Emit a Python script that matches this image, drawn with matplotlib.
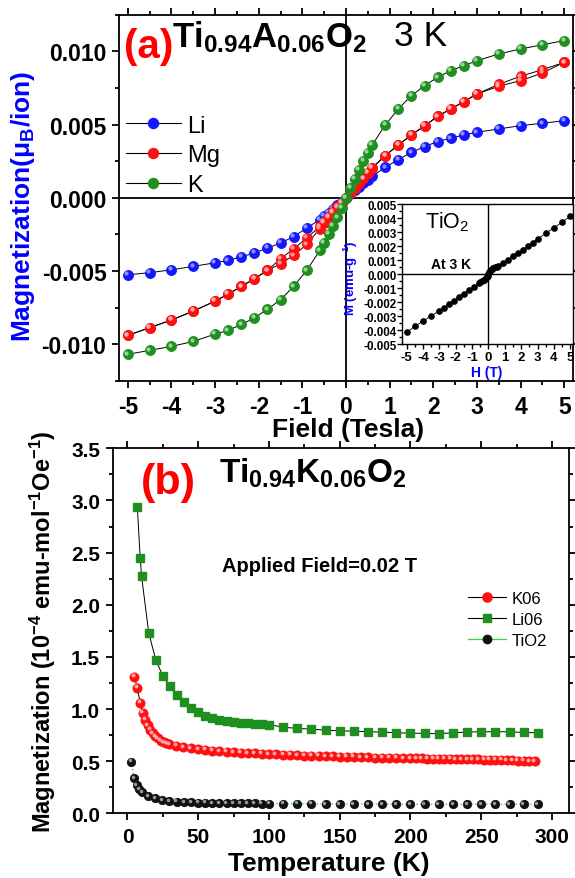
import matplotlib
matplotlib.use('Agg')
import matplotlib.pyplot as plt
from matplotlib.ticker import MultipleLocator, FormatStrFormatter
from matplotlib.transforms import ScaledTranslation
from matplotlib.lines import Line2D

plt.rcParams['font.family'] = 'Liberation Sans'
plt.rcParams['font.weight'] = 'bold'
plt.rcParams['axes.labelweight'] = 'bold'
plt.rcParams['mathtext.default'] = 'regular'
plt.rcParams['axes.unicode_minus'] = False

# ---- panel (a): M vs H at 3 K ----
field = [-5, -4.5, -4, -3.5, -3, -2.7, -2.4, -2.1, -1.8, -1.5, -1.2, -0.9, -0.6, -0.5, -0.4, -0.3, -0.2, -0.1, 0,
         0.1, 0.2, 0.3, 0.4, 0.5, 0.6, 0.9, 1.2, 1.5, 1.8, 2.1, 2.4, 2.7, 3, 3.5, 4, 4.5, 5]
m_li = [-0.00525, -0.00511, -0.00491, -0.00468, -0.00443, -0.00427, -0.00402, -0.00377, -0.00343, -0.00309,
        -0.00264, -0.00207, -0.00148, -0.00125, -0.00100, -0.00077, -0.00052, -0.00027, 0.0,
        0.00027, 0.00052, 0.00077, 0.00100, 0.00125, 0.00148, 0.00209, 0.00261, 0.00311, 0.00350, 0.00384,
        0.00407, 0.00430, 0.00448, 0.00470, 0.00493, 0.00509, 0.00527]
m_mg_up = [-0.00939, -0.00886, -0.00834, -0.00773, -0.00705, -0.00657, -0.00605, -0.00552, -0.00495, -0.00450,
           -0.00393, -0.00318, -0.00210, -0.00170, -0.00134, -0.00099, -0.00065, -0.00034, 0.0,
           0.00034, 0.00066, 0.00100, 0.00134, 0.00170, 0.00205, 0.00289, 0.00361, 0.00430, 0.00491, 0.00557,
           0.00607, 0.00657, 0.00709, 0.00762, 0.00800, 0.00852, 0.00925]
m_mg_down = [-0.00939, -0.00886, -0.00834, -0.00773, -0.00705, -0.00657, -0.00605, -0.00552, -0.00495, -0.00416,
             -0.00348, -0.00275, -0.00195, -0.00162, -0.00130, -0.00097, -0.00063, -0.00034, 0.0,
             0.00034, 0.00066, 0.00100, 0.00134, 0.00170, 0.00205, 0.00289, 0.00361, 0.00430, 0.00491, 0.00557,
             0.00607, 0.00657, 0.00709, 0.00775, 0.00830, 0.00875, 0.00925]
m_k = [-0.01068, -0.01041, -0.01014, -0.00980, -0.00930, -0.00905, -0.00864, -0.00820, -0.00761, -0.00695,
       -0.00605, -0.00495, -0.00359, -0.00307, -0.00248, -0.00191, -0.00134, -0.00068, 0.0,
       0.00068, 0.00130, 0.00193, 0.00252, 0.00307, 0.00361, 0.00498, 0.00607, 0.00698, 0.00766, 0.00823,
       0.00868, 0.00902, 0.00936, 0.00982, 0.01016, 0.01045, 0.01073]

# inset: pure TiO2 at 3 K
field_tio2 = [-5, -4.5, -4, -3.5, -3, -2.7, -2.4, -2.1, -1.8, -1.5, -1.2, -0.9, -0.6, -0.5, -0.4, -0.3, -0.25, -0.2,
              -0.15, -0.1, -0.05, 0, 0.05, 0.1, 0.15, 0.2, 0.25, 0.3, 0.4, 0.5, 0.6, 0.9, 1.2, 1.5, 1.8, 2.1, 2.4,
              2.7, 3, 3.5, 4, 4.5, 5]
m_tio2 = [-0.00417, -0.00374, -0.00336, -0.00300, -0.00262, -0.00240, -0.00215, -0.00190, -0.00165, -0.00140,
          -0.00115, -0.00090, -0.00065, -0.00058, -0.00051, -0.00045, -0.00041, -0.00037, -0.00031, -0.00023,
          -0.00012, 0.0, 0.00012, 0.00022, 0.00030, 0.00036, 0.00040, 0.00043, 0.00047, 0.00050, 0.00055,
          0.00078, 0.00102, 0.00126, 0.00150, 0.00175, 0.00200, 0.00225, 0.00250, 0.00290, 0.00330, 0.00370,
          0.00414]

# ---- panel (b): M vs T, 0.02 T ----
t_li06 = [7, 9, 10, 15, 20, 25, 30, 35, 40, 45, 50, 55, 60, 65, 70, 75, 80, 85, 90, 95, 100,
          110, 120, 130, 140, 150, 160, 170, 180, 190, 200, 210, 220, 230, 240, 250, 260, 270, 280, 290]
m_li06 = [2.935, 2.447, 2.272, 1.733, 1.471, 1.318, 1.219, 1.133, 1.069, 1.005, 0.967, 0.935, 0.915, 0.898,
          0.886, 0.876, 0.869, 0.863, 0.858, 0.854, 0.850,
          0.826, 0.814, 0.807, 0.798, 0.791, 0.788, 0.782, 0.779, 0.772, 0.769, 0.766, 0.763, 0.772, 0.779,
          0.782, 0.782, 0.782, 0.775, 0.772]

t_k06 = [4.9, 6.9, 9, 10.8, 12.6, 14.4, 16.2, 18, 19.8, 21.6, 23.7, 25.5, 27.5, 29.6, 34.4, 39.6, 44.7,
         50, 55, 60, 65, 70, 75, 80, 85, 90, 95, 100, 105, 110, 115, 120, 125, 130, 135, 140, 145, 150,
         155, 160, 165, 170, 175, 180, 185, 190, 195, 200,
         204, 208, 212, 216, 220, 224, 228, 232, 236, 240, 244, 248, 252, 256, 260, 264, 268, 272, 276, 280,
         284, 288]
m_k06 = [1.308, 1.206, 1.059, 0.964, 0.897, 0.846, 0.800, 0.766, 0.740, 0.718, 0.696, 0.683, 0.670, 0.660,
         0.648, 0.635, 0.622,
         0.615, 0.607, 0.600, 0.595, 0.590, 0.585, 0.581, 0.577, 0.574, 0.570, 0.567, 0.564, 0.562, 0.559,
         0.557, 0.554, 0.552, 0.550, 0.548, 0.546, 0.544, 0.542, 0.540, 0.539, 0.537, 0.535, 0.534, 0.532,
         0.531, 0.529, 0.528,
         0.527, 0.526, 0.525, 0.524, 0.523, 0.522, 0.521, 0.520, 0.519, 0.518, 0.517, 0.516, 0.515, 0.513,
         0.512, 0.511, 0.509, 0.507, 0.505, 0.503, 0.500, 0.497]

t_tio2 = [2.6, 4.9, 6.4, 8.2, 10.3, 14.7, 19.5, 24.4, 29.6, 34.7, 40, 45, 50, 55, 60, 65, 70, 75, 80, 85, 90,
          95, 100, 110, 120, 130, 140, 150, 160, 170, 180, 190, 200, 210, 220, 230, 240, 250, 260, 270, 280, 290]
chi_tio2 = [0.495, 0.338, 0.271, 0.230, 0.201, 0.166, 0.144, 0.128, 0.118, 0.112, 0.107, 0.104, 0.102, 0.100,
            0.099, 0.098, 0.097, 0.096, 0.095, 0.094, 0.094, 0.093, 0.093,
            0.091, 0.090, 0.090, 0.089, 0.089, 0.089, 0.088, 0.088, 0.088, 0.088, 0.087, 0.087, 0.087, 0.087,
            0.087, 0.087, 0.087, 0.087, 0.087]

BLUE = '#1515ff'
RED = '#ff1010'
GREEN = '#1f8f1f'

W, H = 575, 879
fig = plt.figure(figsize=(W / 100, H / 100), dpi=100)


def px_axes(left, top, right, bottom):
    # axes rectangle from pixel edges of the reference image
    return fig.add_axes([left / W, 1 - bottom / H, (right - left) / W, (bottom - top) / H])


def balls(ax, x, y, color, light, ms, z=3):
    # shaded "sphere" markers: a coloured disc plus a small offset highlight
    ax.plot(x, y, 'o', ls='none', ms=ms, mfc=color, mec=color, mew=0.6, zorder=z)
    off = ScaledTranslation(-ms * 0.17 / 72, ms * 0.17 / 72, fig.dpi_scale_trans)
    ax.plot(x, y, 'o', ls='none', ms=ms * 0.42, mfc=light, mec='none', alpha=0.85,
            transform=ax.transData + off, zorder=z + 0.1)


def style(ax, size, major, minor, pad, lw):
    ax.tick_params(which='both', direction='out', width=lw, labelsize=size, pad=pad)
    ax.tick_params(which='major', length=major)
    ax.tick_params(which='minor', length=minor)
    for s in ax.spines.values():
        s.set_linewidth(lw)


# ---------------- top panel ----------------
ax1 = px_axes(119, 15.7, 573, 382)
ax1.axhline(0, color='k', lw=1.3, zorder=1)
ax1.axvline(0, color='k', lw=1.3, zorder=1)

ax1.plot(field, m_li, '-', color='k', lw=0.7, zorder=2)
ax1.plot(field, m_mg_up, '-', color='k', lw=0.7, zorder=2)
ax1.plot(field, m_mg_down, '-', color='k', lw=0.7, zorder=2)
ax1.plot(field, m_k, '-', color='k', lw=0.7, zorder=2)
balls(ax1, field, m_li, BLUE, '#9fa8ff', 7.2, z=3)
balls(ax1, field, m_mg_up, RED, '#ffb0b0', 7.2, z=4)
balls(ax1, field, m_mg_down, RED, '#ffb0b0', 7.2, z=4)
balls(ax1, field, m_k, GREEN, '#a8e0a8', 7.2, z=5)

ax1.set_xlim(-5.2, 5.2)
ax1.set_ylim(-0.0125, 0.0125)
ax1.xaxis.set_major_locator(MultipleLocator(1))
ax1.xaxis.set_minor_locator(MultipleLocator(0.5))
ax1.yaxis.set_major_locator(MultipleLocator(0.005))
ax1.yaxis.set_minor_locator(MultipleLocator(0.0025))
ax1.yaxis.set_major_formatter(FormatStrFormatter('%.3f'))
style(ax1, 16.5, 5, 3, 4, 1.3)
ax1.tick_params(axis='x', pad=5)
ax1.tick_params(which='both', top=True, right=True)

ax1.set_xlabel('Field (Tesla)', fontsize=19)
ax1.xaxis.set_label_coords(0.504, -0.131)
ax1.xaxis.label.set_va('center')
ax1.set_ylabel('Magnetization(μ$_B$/ion)', fontsize=19, color='blue')
ax1.yaxis.set_label_coords(-0.211, 0.48)
ax1.yaxis.label.set_va('center')

hand_a = [Line2D([], [], color='k', lw=0.8, marker='o', ms=7.2, mfc=c, mec=c) for c in (BLUE, RED, GREEN)]
ax1.legend(hand_a, ['Li', 'Mg', 'K'], loc='upper left', bbox_to_anchor=(0.0154, 0.727),
           frameon=False, prop={'size': 17, 'weight': 'normal'}, handlelength=2.33,
           handletextpad=0.25, labelspacing=0.32, borderpad=0, borderaxespad=0, numpoints=1)

fig.text(149 / W, 1 - 47.4 / H, '(a)', color='red', fontsize=29, ha='center', va='center')
fig.text(172 / W, 1 - 47 / H, 'Ti$_{0.94}$A$_{0.06}$O$_2$', fontsize=25, ha='left', va='baseline')
fig.text(421 / W, 1 - 36.7 / H, '3 K', fontsize=25.5, weight='normal', ha='center', va='center')

# inset
axi = px_axes(402.3, 205, 573.5, 345)
axi.axhline(0, color='k', lw=1.0, zorder=1)
axi.axvline(0, color='k', lw=1.0, zorder=1)
axi.plot(field_tio2, m_tio2, '-o', color='k', lw=0.6, ms=3.8, zorder=3)
axi.set_xlim(-5.27, 5.2)
axi.set_ylim(-0.005, 0.005)
axi.xaxis.set_major_locator(MultipleLocator(1))
axi.xaxis.set_minor_locator(MultipleLocator(0.5))
axi.yaxis.set_major_locator(MultipleLocator(0.001))
axi.yaxis.set_minor_locator(MultipleLocator(0.0005))
axi.yaxis.set_major_formatter(FormatStrFormatter('%.3f'))
style(axi, 9.5, 3.5, 2, 1.2, 1.0)
axi.tick_params(axis='y', labelsize=8.4, pad=0.8)
axi.set_xlabel('H (T)', fontsize=10, color='blue')
axi.xaxis.set_label_coords(0.493, -0.2)
axi.xaxis.label.set_va('center')
axi.set_ylabel('M (emu-g$^{-1}$)', fontsize=9.5, color='blue')
axi.yaxis.set_label_coords(-0.3, 0.479)
axi.yaxis.label.set_va('center')
fig.text(447 / W, 1 - 228 / H, 'TiO$_2$', fontsize=15.5, weight='normal', ha='center', va='baseline')
fig.text(451 / W, 1 - 265 / H, 'At 3 K', fontsize=10, ha='center', va='center')

# ---------------- bottom panel ----------------
ax2 = px_axes(113.3, 449.3, 569, 814.3)
ax2.plot(t_li06, m_li06, '-', color='k', lw=0.7, zorder=2)
ax2.plot(t_li06, m_li06, 's', ls='none', ms=6, mfc=GREEN, mec=GREEN, zorder=3)
ax2.plot(t_k06, m_k06, '-', color='k', lw=0.7, zorder=2)
balls(ax2, t_k06, m_k06, RED, '#ffc4c4', 6.6, z=3)
ax2.plot(t_tio2, chi_tio2, ':', color='#33dd33', lw=1.0, zorder=2)
balls(ax2, t_tio2, chi_tio2, '#111111', '#b0b0b0', 6.0, z=3)

ax2.set_xlim(-10, 312)
ax2.set_ylim(0, 3.5)
ax2.xaxis.set_major_locator(MultipleLocator(50))
ax2.xaxis.set_minor_locator(MultipleLocator(25))
ax2.yaxis.set_major_locator(MultipleLocator(0.5))
ax2.yaxis.set_minor_locator(MultipleLocator(0.25))
ax2.yaxis.set_major_formatter(FormatStrFormatter('%.1f'))
style(ax2, 15, 5, 3, 4.5, 1.3)
ax2.tick_params(axis='x', pad=5)
ax2.tick_params(which='both', top=True, right=True)

ax2.set_xlabel('Temperature (K)', fontsize=19)
ax2.xaxis.set_label_coords(0.473, -0.136)
ax2.xaxis.label.set_va('center')
ax2.set_ylabel('Magnetization (10$^{-4}$ emu-mol$^{-1}$Oe$^{-1}$)', fontsize=17)
ax2.yaxis.set_label_coords(-0.154, 0.5)
ax2.yaxis.label.set_va('center')

hand_b = [Line2D([], [], color='k', lw=0.8, marker='o', ms=6.6, mfc=RED, mec=RED),
          Line2D([], [], color='k', lw=0.8, marker='s', ms=6, mfc=GREEN, mec=GREEN),
          Line2D([], [], color='#33dd33', lw=0.9, marker='o', ms=6, mfc='#111111', mec='#111111')]
ax2.legend(hand_b, ['K06', 'Li06', 'TiO2'], loc='upper left', bbox_to_anchor=(0.778, 0.609),
           frameon=False, prop={'size': 12, 'weight': 'normal'}, handlelength=2.3,
           handletextpad=0.3, labelspacing=0.36, borderpad=0, borderaxespad=0, numpoints=1)

fig.text(168 / W, 1 - 483 / H, '(b)', color='red', fontsize=31, ha='center', va='center')
fig.text(219 / W, 1 - 483 / H, 'Ti$_{0.94}$K$_{0.06}$O$_2$', fontsize=24, ha='left', va='baseline')
fig.text(320 / W, 1 - 567 / H, 'Applied Field=0.02 T', fontsize=14.5, ha='center', va='center')

fig.savefig('out.png', dpi=100)
